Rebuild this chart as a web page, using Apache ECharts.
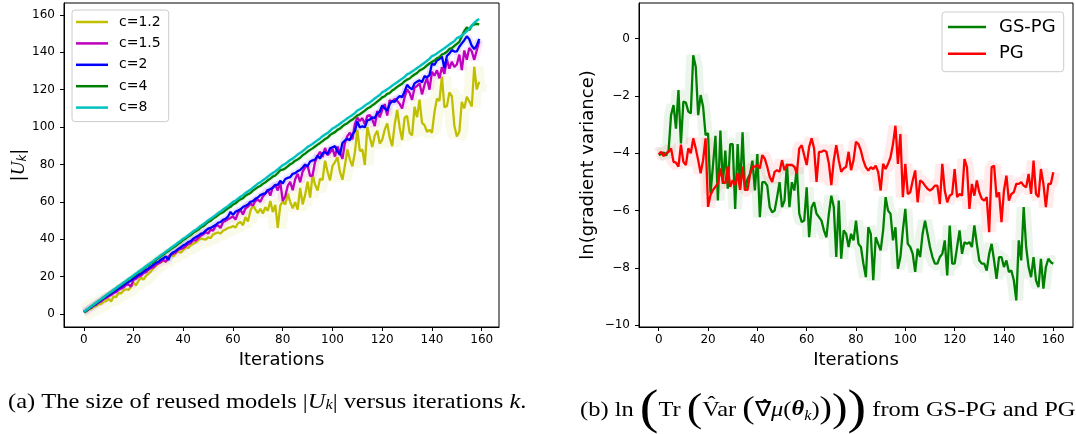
<!DOCTYPE html>
<html>
<head>
<meta charset="utf-8">
<script src="https://cdn.jsdelivr.net/npm/echarts@6/dist/echarts.min.js"></script>
<style>
html, body { margin: 0; padding: 0; background: #fff; }
#main { width: 1076px; height: 434px; }
</style>
</head>
<body>
<div id="main"></div>
<script>
// tick labels
var iterTicks = [0, 20, 40, 60, 80, 100, 120, 140, 160];
var sizeTicks = [0, 20, 40, 60, 80, 100, 120, 140, 160];
var varTicks = [-10, -8, -6, -4, -2, 0];

// (a) |U_k| per iteration, k = 0..159
var seriesNamesA = ['c=1.2', 'c=1.5', 'c=2', 'c=4', 'c=8'];
var c12 = [
  0.8, 1.3, 2.3, 2.7, 3.8, 4.2, 5.1, 5.4, 6.5, 7.0,
  8.1, 6.6, 9.3, 9.0, 11.2, 11.0, 12.5, 13.2, 12.8, 14.6,
  16.7, 15.2, 17.8, 19.4, 18.3, 20.3, 21.5, 22.8, 24.5, 25.6,
  27.1, 27.5, 28.7, 27.9, 30.2, 31.5, 30.8, 32.5, 33.5, 32.8,
  34.2, 35.6, 35.3, 36.9, 37.5, 38.2, 39.5, 40.4, 40.0, 39.8,
  41.0, 40.6, 42.5, 43.1, 43.6, 43.0, 44.5, 45.2, 46.0, 46.3,
  47.0, 46.2, 48.5, 49.2, 47.5, 51.8, 49.5, 55.1, 58.2, 56.0,
  54.0, 56.3, 53.7, 57.1, 55.2, 60.4, 54.5, 58.3, 46.0, 58.0,
  60.2, 58.5, 64.4, 60.0, 56.5, 59.8, 55.8, 67.5, 58.6, 63.7,
  70.8, 62.2, 74.6, 69.1, 66.0, 72.4, 71.6, 82.0, 76.2, 71.5,
  79.2, 81.3, 83.8, 76.0, 71.8, 79.5, 88.0, 82.6, 79.0, 86.4,
  98.5, 87.2, 88.0, 79.7, 100.0, 94.6, 89.3, 95.5, 98.0, 91.2,
  93.2, 98.6, 102.0, 94.5, 89.8, 101.3, 109.2, 99.8, 93.0, 105.0,
  106.0, 97.0, 95.5, 110.8, 105.3, 114.7, 102.2, 101.0, 97.5, 98.5,
  97.0, 108.0, 115.2, 114.0, 127.0, 110.6, 111.2, 118.5, 116.5, 100.7,
  95.0, 97.5, 113.5, 110.0, 116.2, 113.8, 111.0, 132.3, 120.1, 124.2
];
var c15 = [
  1.0, 1.5, 2.6, 3.3, 4.4, 5.0, 6.1, 6.7, 7.9, 8.5,
  9.4, 10.1, 11.2, 11.6, 12.9, 13.5, 14.1, 15.5, 15.8, 14.6,
  18.2, 18.8, 19.9, 20.4, 21.9, 22.2, 23.6, 24.5, 24.9, 26.3,
  27.0, 27.8, 28.9, 27.9, 30.6, 31.6, 32.2, 32.8, 34.4, 34.8,
  35.2, 36.3, 37.4, 37.9, 39.5, 39.2, 40.6, 41.9, 42.5, 43.8,
  43.0, 45.1, 44.6, 47.0, 47.4, 46.0, 49.2, 49.8, 50.6, 51.4,
  52.1, 50.5, 54.0, 55.7, 53.2, 56.4, 57.4, 59.0, 58.0, 60.4,
  61.2, 60.0, 62.8, 64.4, 66.5, 63.3, 67.9, 69.0, 66.1, 70.6,
  60.5, 63.0, 68.5, 70.7, 66.2, 72.1, 75.0, 70.5, 76.2, 78.4,
  79.5, 73.8, 74.2, 81.4, 84.5, 86.8, 84.0, 88.8, 85.0, 86.4,
  88.5, 84.2, 89.6, 86.2, 83.0, 91.6, 95.3, 97.0, 93.4, 101.6,
  105.0, 103.2, 104.8, 101.5, 106.0, 106.4, 104.0, 100.5, 108.6, 105.2,
  109.2, 112.3, 106.2, 114.4, 113.6, 115.0, 114.1, 112.4, 110.0, 116.0,
  120.2, 118.3, 114.6, 121.1, 122.0, 123.4, 117.5, 122.6, 126.3, 120.0,
  129.6, 127.5, 130.4, 126.1, 132.0, 128.5, 136.2, 131.3, 135.0, 132.2,
  133.5, 138.8, 130.5, 141.0, 136.0, 142.3, 140.5, 136.0, 141.0, 146.0
];
var c2 = [
  1.0, 1.8, 2.8, 3.7, 4.6, 5.6, 6.5, 7.4, 8.3, 9.3,
  10.1, 11.0, 11.9, 12.6, 13.7, 14.4, 15.4, 16.3, 17.1, 17.8,
  19.0, 19.8, 20.9, 21.5, 22.5, 23.5, 24.3, 25.3, 26.3, 27.3,
  27.9, 29.0, 29.8, 30.8, 28.8, 32.0, 33.0, 33.7, 34.8, 35.7,
  36.7, 37.3, 38.5, 39.0, 40.2, 41.0, 41.8, 42.8, 43.3, 44.6,
  45.6, 46.0, 46.8, 47.6, 48.8, 49.2, 50.4, 50.9, 52.1, 54.6,
  53.0, 54.7, 55.3, 56.0, 57.2, 57.8, 58.6, 60.0, 60.4, 61.6,
  62.3, 63.6, 64.2, 64.5, 66.2, 66.8, 67.5, 69.0, 69.1, 71.2,
  69.8, 72.2, 72.8, 73.2, 75.0, 75.3, 76.4, 77.0, 78.4, 79.9,
  79.0, 81.6, 82.2, 82.6, 84.8, 83.2, 86.0, 86.6, 85.5, 88.6,
  89.2, 89.8, 87.0, 85.2, 91.5, 92.8, 93.6, 93.0, 96.2, 97.8,
  103.0, 99.8, 100.4, 99.9, 103.6, 104.0, 105.2, 104.8, 107.4, 108.2,
  111.6, 110.0, 108.8, 112.3, 113.9, 113.5, 115.3, 116.6, 116.0, 119.0,
  122.6, 121.1, 120.2, 123.4, 124.3, 125.0, 124.0, 127.3, 126.6, 127.8,
  134.0, 133.2, 135.6, 136.4, 137.8, 131.5, 138.0, 139.4, 141.2, 140.4,
  140.5, 143.0, 144.8, 146.5, 148.6, 147.0, 143.5, 141.8, 143.6, 147.2
];
var c4 = [
  1.0, 1.9, 2.9, 3.9, 4.9, 5.9, 6.9, 7.8, 8.8, 9.8,
  10.8, 11.7, 12.7, 13.6, 14.6, 15.5, 16.5, 17.4, 18.5, 19.3,
  20.3, 21.3, 22.3, 23.2, 24.1, 25.2, 26.0, 27.1, 27.6, 28.9,
  29.9, 30.8, 31.8, 32.8, 33.6, 34.7, 35.5, 36.4, 37.6, 38.4,
  39.6, 40.4, 41.4, 42.2, 43.4, 44.2, 45.0, 46.2, 46.9, 48.1,
  49.2, 49.8, 51.0, 51.8, 52.9, 53.8, 54.4, 55.6, 56.5, 57.3,
  58.6, 59.2, 60.4, 61.3, 61.9, 63.3, 64.0, 64.7, 66.0, 66.9,
  67.9, 68.5, 69.6, 70.4, 71.5, 72.4, 73.5, 74.1, 75.4, 76.9,
  77.2, 77.9, 79.0, 80.1, 80.8, 82.0, 82.7, 83.6, 84.9, 85.8,
  86.9, 87.8, 88.6, 89.6, 90.6, 91.5, 92.5, 93.6, 94.3, 95.7,
  96.6, 97.3, 98.5, 99.2, 100.4, 101.4, 102.1, 103.2, 104.0, 105.1,
  106.2, 106.9, 107.8, 108.8, 109.9, 110.6, 111.6, 112.5, 113.6, 114.7,
  115.9, 116.5, 117.8, 118.2, 119.6, 120.4, 121.5, 122.4, 123.2, 124.5,
  125.4, 126.0, 127.2, 128.1, 128.9, 130.3, 131.0, 131.8, 133.0, 134.0,
  134.9, 135.6, 136.8, 137.4, 138.8, 139.4, 140.3, 141.8, 142.2, 143.4,
  144.5, 145.6, 148.6, 151.4, 153.4, 151.9, 154.3, 154.9, 155.2, 155.0
];
var c8 = [
  1.0, 2.0, 3.0, 4.0, 5.0, 6.0, 7.0, 7.9, 8.9, 9.9,
  10.9, 11.8, 12.8, 13.8, 14.8, 15.7, 16.7, 17.7, 18.7, 19.6,
  20.6, 21.6, 22.6, 23.5, 24.5, 25.5, 26.5, 27.4, 28.4, 29.5,
  30.4, 31.4, 32.3, 33.3, 34.3, 35.3, 36.2, 37.2, 38.3, 39.2,
  40.3, 41.1, 42.1, 43.1, 44.2, 45.0, 46.0, 47.1, 48.0, 49.0,
  50.1, 51.0, 51.9, 52.9, 54.0, 54.8, 55.9, 56.8, 57.7, 58.9,
  60.0, 60.6, 61.7, 62.7, 63.6, 64.7, 65.6, 66.4, 67.6, 68.6,
  69.8, 70.5, 71.5, 72.4, 73.5, 74.5, 75.4, 76.3, 77.4, 78.5,
  79.6, 80.3, 81.3, 82.4, 83.2, 84.2, 85.3, 86.2, 87.1, 88.2,
  89.4, 90.1, 91.0, 92.1, 93.0, 93.9, 95.1, 96.0, 96.8, 98.0,
  99.2, 99.9, 100.8, 101.8, 102.8, 103.7, 104.7, 105.6, 106.5, 107.5,
  108.9, 109.5, 110.4, 111.5, 112.4, 113.2, 114.2, 115.3, 116.3, 117.2,
  118.6, 119.3, 120.2, 121.1, 122.2, 123.1, 124.0, 125.0, 125.9, 126.9,
  128.2, 128.8, 129.7, 130.6, 131.6, 132.5, 133.5, 134.4, 135.5, 136.5,
  138.0, 138.5, 139.4, 140.4, 141.3, 142.2, 143.2, 144.2, 145.1, 146.0,
  147.6, 148.1, 149.0, 150.1, 151.3, 152.7, 154.1, 155.8, 157.0, 157.8
];

// (b) ln gradient variance per iteration, k = 0..160
var seriesNamesB = ['GS-PG', 'PG'];
var gsPg = [
  -4.06, -4.03, -3.97, -4.08, -3.9, -2.67, -2.32, -3.14, -1.8, -3.66,
  -2.2, -2.23, -2.55, -2.61, -0.58, -0.98, -2.67, -1.97, -2.38, -3.37,
  -3.3, -5.4, -4.43, -3.39, -5.65, -3.21, -5.07, -3.91, -5.24, -3.68,
  -3.68, -5.94, -3.68, -5.19, -3.27, -5.3, -4.9, -4.72, -4.26, -5.3,
  -4.03, -6.23, -5.01, -5.01, -5.13, -5.88, -6.06, -6.0, -5.53, -5.01,
  -5.88, -5.65, -4.37, -5.88, -5.01, -5.3, -4.49, -6.11, -6.4, -6.35,
  -5.19, -6.93, -5.88, -5.71, -6.11, -6.23, -6.35, -6.69, -6.93, -6.11,
  -5.48, -5.88, -7.62, -5.65, -7.68, -6.69, -6.81, -7.27, -6.81, -7.04,
  -6.35, -7.16, -7.27, -7.85, -8.32, -6.58, -6.81, -8.43, -6.93, -7.16,
  -7.39, -6.69, -5.53, -6.0, -6.11, -7.04, -6.58, -8.03, -7.62, -6.69,
  -5.94, -7.16, -7.27, -7.51, -8.14, -7.33, -7.62, -6.81, -6.35, -6.81,
  -7.27, -7.62, -7.85, -7.85, -7.62, -7.51, -7.04, -8.26, -6.52, -7.85,
  -7.85, -7.27, -6.69, -7.51, -7.1, -7.16, -7.1, -7.27, -6.52, -7.16,
  -7.74, -7.85, -7.85, -8.09, -7.51, -7.16, -7.74, -8.38, -7.62, -7.62,
  -7.97, -7.74, -8.14, -8.09, -8.43, -9.13, -7.04, -7.74, -5.88, -7.27,
  -7.97, -8.32, -7.62, -8.43, -8.67, -7.68, -8.72, -7.97, -7.68, -7.8,
  -7.85
];
var pgVar = [
  -4.04, -3.95, -4.1, -4.0, -3.95, -3.83, -4.3, -4.33, -4.47, -3.7,
  -4.3, -4.41, -3.83, -4.0, -3.48, -3.83, -4.24, -4.7, -4.24, -3.48,
  -5.87, -5.46, -5.28, -5.17, -5.05, -4.53, -5.0, -5.05, -4.47, -5.17,
  -4.94, -5.11, -4.7, -5.28, -4.47, -5.28, -5.28, -4.76, -4.47, -4.47,
  -4.41, -4.53, -4.07, -4.19, -4.47, -4.82, -5.0, -4.65, -4.59, -4.65,
  -4.24, -4.59, -4.41, -4.41, -4.41, -4.47, -4.7, -3.83, -3.72, -4.07,
  -4.41, -3.78, -3.48, -3.83, -5.0, -3.95, -3.95, -3.9, -3.95, -4.36,
  -5.11, -4.24, -3.72, -4.24, -4.65, -4.53, -4.47, -3.95, -4.59, -4.24,
  -3.6, -3.68, -3.91, -4.26, -4.49, -4.6, -4.49, -4.55, -4.43, -4.66,
  -5.3, -4.37, -4.55, -4.37, -4.14, -3.68, -3.04, -4.37, -3.33, -5.53,
  -4.37, -5.42, -5.36, -4.95, -4.6, -5.71, -4.95, -5.01, -5.13, -5.24,
  -5.3, -5.24, -5.13, -5.13, -5.77, -4.37, -5.3, -5.71, -5.48, -5.42,
  -4.55, -5.53, -5.42, -5.48, -4.2, -4.49, -5.94, -5.07, -5.48, -4.95,
  -5.36, -5.59, -5.65, -5.53, -6.75, -4.49, -4.43, -5.53, -5.36, -6.4,
  -5.3, -4.78, -5.65, -5.42, -5.36, -5.07, -5.07, -5.01, -5.13, -5.19,
  -4.72, -5.42, -4.26, -5.42, -5.53, -4.55, -5.07, -5.88, -5.07, -5.07,
  -4.66
];

var myChart = echarts.init(document.getElementById('main'), null, { renderer: 'canvas' });

function pts(arr) {
  return arr.map(function(v, i) { return [i, v]; });
}
function minusSign(v) {
  return String(v).replace('-', '\u2212');
}

var txt = '#000';
var sans = 'DejaVu Sans';
var serif = 'Liberation Serif';

function makeX(idx, min, max) {
  return {
    type: 'value', gridIndex: idx, min: min, max: max,
    axisLine: { show: true, onZero: false, lineStyle: { color: '#000', width: 1 } },
    axisTick: { show: true, length: 4, customValues: iterTicks, lineStyle: { color: '#000' } },
    axisLabel: { customValues: iterTicks, margin: 7, fontSize: 12, color: txt, fontFamily: sans },
    splitLine: { show: false },
    name: 'Iterations', nameLocation: 'middle', nameGap: 23,
    nameTextStyle: { fontSize: 18, fontFamily: sans, color: txt }
  };
}
function makeY(idx, min, max, ticks) {
  return {
    type: 'value', gridIndex: idx, min: min, max: max,
    axisLine: { show: true, onZero: false, lineStyle: { color: '#000', width: 1 } },
    axisTick: { show: true, length: 4, customValues: ticks, lineStyle: { color: '#000' } },
    axisLabel: { customValues: ticks, margin: 9, fontSize: 12, color: txt, fontFamily: sans, formatter: minusSign },
    splitLine: { show: false }
  };
}

var colorsA = ['#bfbf00', '#bf00bf', '#0000ff', '#008000', '#00bfbf'];
var dataA = [c12, c15, c2, c4, c8];
var bandW = [18, 9, 7, 5, 4];
var colorsB = ['#008000', '#ff0000'];
var dataB = [gsPg, pgVar];

var series = [];
dataA.forEach(function(d, i) {
  series.push({
    name: seriesNamesA[i] + ' band', type: 'line', xAxisIndex: 0, yAxisIndex: 0,
    data: pts(d), showSymbol: false, silent: true, z: 1,
    lineStyle: { color: colorsA[i], width: bandW[i], opacity: 0.08 }
  });
});
dataB.forEach(function(d, i) {
  series.push({
    name: seriesNamesB[i] + ' band', type: 'line', xAxisIndex: 1, yAxisIndex: 1,
    data: pts(d), showSymbol: false, silent: true, z: 1,
    lineStyle: { color: colorsB[i], width: 14, opacity: 0.08 }
  });
});
dataA.forEach(function(d, i) {
  series.push({
    name: seriesNamesA[i], type: 'line', xAxisIndex: 0, yAxisIndex: 0,
    data: pts(d), showSymbol: false, z: 2, color: colorsA[i],
    lineStyle: { color: colorsA[i], width: 2.3 }
  });
});
dataB.forEach(function(d, i) {
  series.push({
    name: seriesNamesB[i], type: 'line', xAxisIndex: 1, yAxisIndex: 1,
    data: pts(d), showSymbol: false, z: 2, color: colorsB[i],
    lineStyle: { color: colorsB[i], width: 2.3 }
  });
});

var option = {
  animation: false,
  backgroundColor: '#fff',
  grid: [
    { left: 64, top: 3, width: 435, height: 324, show: true, borderColor: '#000', borderWidth: 1, outerBoundsMode: 'none' },
    { left: 639, top: 3, width: 434, height: 324, show: true, borderColor: '#000', borderWidth: 1, outerBoundsMode: 'none' }
  ],
  xAxis: [makeX(0, -7.95, 166.95), makeX(1, -8, 168)],
  yAxis: [makeY(0, -7, 166.4, sizeTicks), makeY(1, -10.06, 1.24, varTicks)],
  legend: [
    {
      data: seriesNamesA, orient: 'vertical', left: 72, top: 10,
      icon: 'rect', itemWidth: 32, itemHeight: 2.5, itemGap: 5.4,
      padding: [4, 8, 6, 4],
      backgroundColor: 'rgba(255,255,255,0.8)', borderColor: '#ccc', borderWidth: 1, borderRadius: 3,
      textStyle: { fontSize: 14, lineHeight: 16, fontFamily: sans, color: txt, padding: [0, 0, 0, 6] },
      selectedMode: false
    },
    {
      data: seriesNamesB, orient: 'vertical', left: 942, top: 12,
      icon: 'rect', itemWidth: 38, itemHeight: 2.5, itemGap: 6.7,
      padding: [5, 8, 8, 6],
      backgroundColor: 'rgba(255,255,255,0.8)', borderColor: '#ccc', borderWidth: 1, borderRadius: 3,
      textStyle: { fontSize: 18, lineHeight: 20, fontFamily: sans, color: txt, padding: [0, 0, 0, 8] },
      selectedMode: false
    }
  ],
  graphic: [
    {
      type: 'text', x: 19, y: 165, rotation: Math.PI / 2,
      style: {
        text: '|{u|U}{s|k}|', align: 'center', verticalAlign: 'middle',
        fontSize: 18, fontFamily: sans, fill: txt,
        rich: {
          u: { fontSize: 19, fontFamily: serif, fontStyle: 'italic' },
          s: { fontSize: 12, fontFamily: sans, fontStyle: 'italic', verticalAlign: 'bottom', padding: [6, 0, 0, 0] }
        }
      }
    },
    {
      type: 'text', x: 588, y: 165, rotation: Math.PI / 2,
      style: {
        text: 'ln(gradient variance)', align: 'center', verticalAlign: 'middle',
        fontSize: 18, fontFamily: sans, fill: txt
      }
    },
    {
      type: 'text', x: 8, y: 402, scaleX: 1.165,
      style: {
        text: '(a) The size of reused models |{u|U}{s|k}| versus iterations {i|k}.',
        verticalAlign: 'middle', fontSize: 21, fontFamily: serif, fill: txt,
        rich: {
          u: { fontSize: 21, fontFamily: serif, fontStyle: 'italic' },
          s: { fontSize: 14, fontFamily: serif, fontStyle: 'italic', verticalAlign: 'bottom' },
          i: { fontSize: 21, fontFamily: serif, fontStyle: 'italic' }
        }
      }
    },
    {
      type: 'text', x: 580, y: 410, scaleX: 1.165,
      style: {
        text: '(b) ln {p1|(}Tr {p2|(}V\u0302ar {p3|(}\u2207\u0302{i|\u03bc}({b|\u03b8}{s|k}){p3|)}{p2|)}{p1|)} from GS-PG and PG',
        verticalAlign: 'middle', fontSize: 21, fontFamily: serif, fill: txt,
        rich: {
          p1: { fontSize: 48, fontFamily: serif },
          p2: { fontSize: 40, fontFamily: serif },
          p3: { fontSize: 32, fontFamily: serif },
          i: { fontSize: 21, fontFamily: serif, fontStyle: 'italic' },
          b: { fontSize: 21, fontFamily: serif, fontStyle: 'italic', fontWeight: 'bold' },
          s: { fontSize: 14, fontFamily: serif, fontStyle: 'italic', verticalAlign: 'middle', padding: [12, 0, 0, 0] }
        }
      }
    }
  ],
  series: series
};
myChart.setOption(option);
</script>
</body>
</html>
